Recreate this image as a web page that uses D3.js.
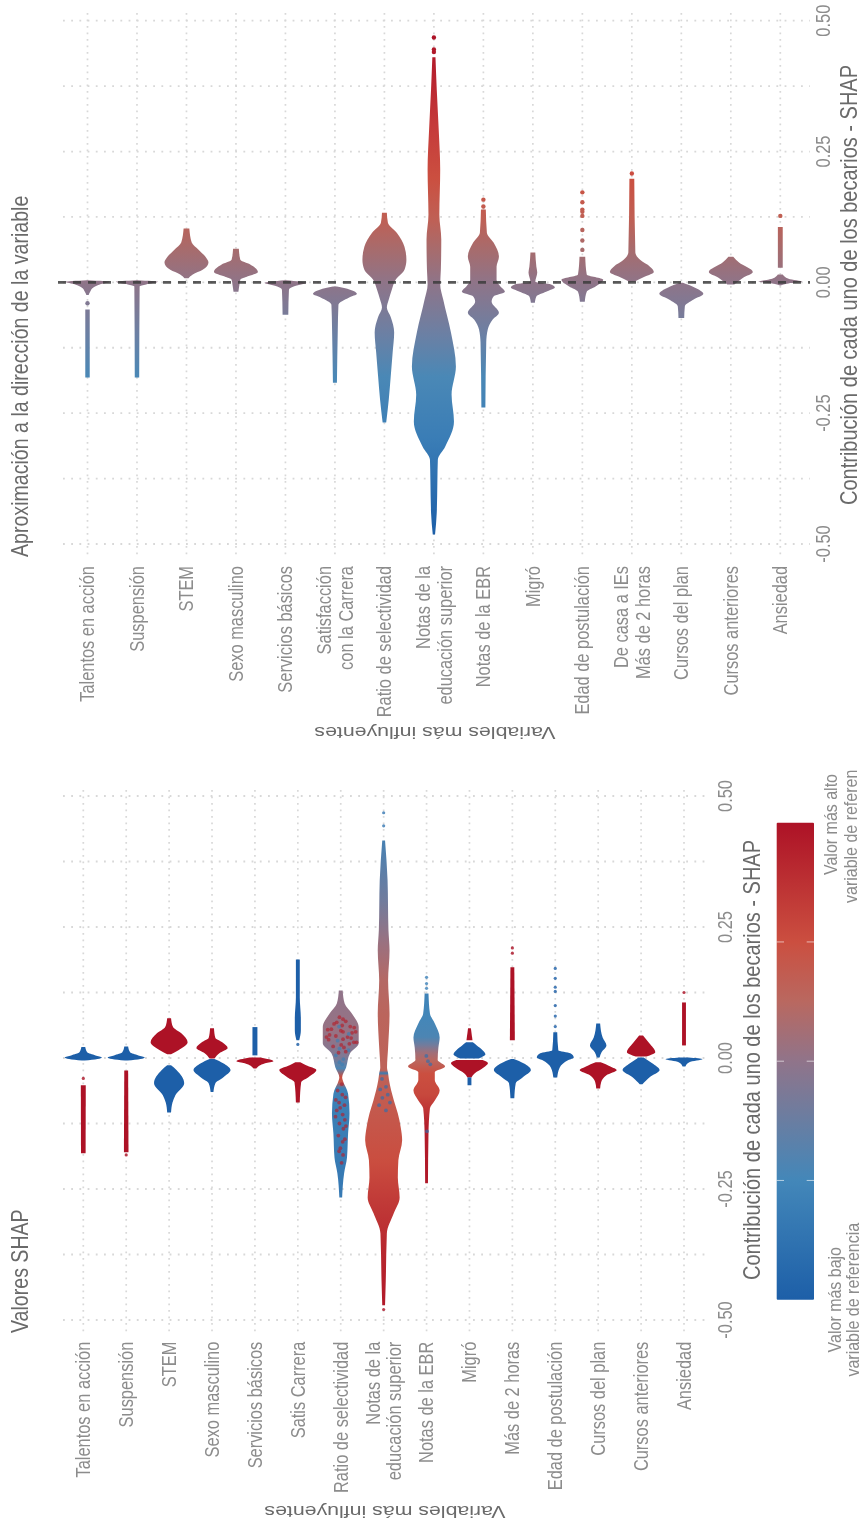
<!DOCTYPE html>
<html><head><meta charset="utf-8">
<script src="https://cdn.jsdelivr.net/npm/d3@7"></script>
<style>
html,body{margin:0;padding:0;background:#fff;overflow:hidden}
svg{display:block;filter:blur(0.45px)}
text{font-family:"Liberation Sans",Arial,sans-serif}
</style></head><body>
<svg id="c" width="863" height="1529"></svg>
<script>
const shapTicks = [-0.5,-0.25,0,0.25,0.5];
const shapGrid = [-0.5,-0.375,-0.25,-0.125,0,0.125,0.25,0.375,0.5];
const colorStopValues = [-0.5,-0.25,0,0.125,0.25,0.5];
const colorStopHex = ["#1d5fa8","#4387b9","#90748a","#b96860","#cb4f40","#ad1226"];
const topStopValues = [-0.48,-0.3,-0.18,-0.1,0,0.06,0.12,0.2,0.3,0.47];
const topStopHex = ["#1d5fa8","#3a7db6","#4a88b6","#6b80a4","#8f7488","#a66c6e","#bf6055","#cb4f40","#c53a3a","#ad1226"];

const categoriesTop = ["Talentos en acción","Suspensión","STEM","Sexo masculino","Servicios básicos","Satisfacción\ncon la Carrera","Ratio de selectividad","Notas de la\neducación superior","Notas de la EBR","Migró","Edad de postulación","De casa a IEs\nMás de 2 horas","Cursos del plan","Cursos anteriores","Ansiedad"];
const categoriesBottom = ["Talentos en acción","Suspensión","STEM","Sexo masculino","Servicios básicos","Satis Carrera","Ratio de selectividad","Notas de la\neducación superior","Notas de la EBR","Migró","Más de 2 horas","Edad de postulación","Cursos del plan","Cursos anteriores","Ansiedad"];

// Upper panel: SHAP value and relative density along each violin (null density = gap)
const topShap = [
 [.004,.001,-.004,-.01,-.018,-.024,-.03,-.052,-.182],
 [.004,.001,-.004,-.008,-.182],
 [.103,.076,.062,.049,.038,.024,.015,.008],
 [.064,.043,.034,.02,.011,.005,-.004,-.018],
 [.004,-.001,-.008,-.014,-.062],
 [-.008,-.014,-.022,-.029,-.043,-.09,-.192],
 [.133,.114,.095,.068,.043,.024,.005,-.014,-.033,-.048,-.066,-.096,-.134,-.18,-.224,-.268],
 [.43,.368,.292,.215,.129,.082,.024,-.004,-.033,-.096,-.161,-.215,-.266,-.314,-.339,-.377,-.44,-.482],
 [.139,.095,.076,.049,.03,.005,-.008,-.018,-.027,-.037,-.058,-.071,-.09,-.115,-.239],
 [.057,.03,.019,.001,-.004,-.01,-.018,-.027,-.039],
 [.049,.015,.005,.001,-.008,-.018,-.037],
 [.198,.057,.043,.03,.02,.011,.001],
 [-.001,-.01,-.022,-.033,-.046,-.068],
 [.049,.038,.02,.009,-.004],
 [.106,.028,.02,.015,.007,.001,-.002,-.006]
];
const topDensity = [
 [0,1,.55,.25,.1,.03,null,.08,.08],
 [0,.95,.4,.1,.08],
 [.11,.22,.55,.86,1,.73,.27,.07],
 [.11,.18,.64,1,.5,.18,.14,.09],
 [0,.95,.36,.14,.11],
 [.07,.68,1,.64,.14,.11,.07],
 [.09,.14,.55,.91,1,.91,.5,.32,.18,.09,.27,.43,.36,.27,.18,.06],
 [.05,.11,.2,.27,.23,.32,.3,.27,.41,.77,1,.8,.91,.5,.16,.14,.11,.03],
 [.09,.14,.45,.7,.59,.59,.77,.98,.45,.36,.7,.41,.18,.11,.07],
 [.09,.14,.18,.09,.82,1,.59,.14,.07],
 [.11,.18,.95,.9,.59,.18,.09],
 [.09,.14,.36,.82,1,.59,.09],
 [.05,.59,1,.55,.14,.11],
 [.09,.36,1,.55,.14],
 [.09,.09,null,.09,.36,1,.36,0]
];
const topOutliers = [[-.04],[],[],[],[],[],[],[.468,.445,.44],[.158,.145],[],[.172,.153,.139,.135,.127,.1,.08,.062],[.208],[],[],[.127]];

// Lower panel: one lobe per colour group. Feature = colour-bar value of a flat lobe, null = uses stops
const lobeCategory = [0,0,1,1,2,2,3,3,4,4,5,5,6,7,8,9,9,9,9,10,10,11,12,12,13,13,14,14];
const lobeFeature = [-.5,.5,-.5,.5,.5,-.5,.5,-.5,-.5,.5,-.5,.5,null,null,null,.5,-.5,.5,-.5,.5,-.5,-.5,-.5,.5,.5,-.5,.5,-.5];
const lobeShap = [
 [.021,.011,.005,.001,-.002,-.005],[-.052,-.182],
 [.022,.011,.005,.001,-.002,-.005],[-.024,-.18],
 [.076,.059,.047,.03,.015,.007],[-.014,-.023,-.048,-.071,-.085,-.104],
 [.057,.038,.03,.019,.009,-.001],[-.002,-.01,-.023,-.037,-.048,-.065],
 [.059,.005],[.001,-.006,-.01,-.02],
 [.188,.116,.076,.053,.034],[-.008,-.014,-.023,-.037,-.046,-.085],
 [.129,.104,.085,.059,.028,.009,-.018,-.037,-.042,-.068,-.106,-.144,-.19,-.22,-.266],
 [.415,.339,.244,.205,.148,.085,.02,-.018,-.029,-.042,-.081,-.106,-.132,-.157,-.195,-.228,-.266,-.296,-.335,-.425,-.472],
 [.123,.085,.066,.039,.02,-.004,-.016,-.027,-.042,-.062,-.081,-.096,-.144,-.239],
 [.057,.034],[.03,.024,.015,.007,-.001],[-.004,-.01,-.018,-.029,-.037],[-.037,-.052],
 [.173,.034],[-.002,-.01,-.023,-.037,-.048,-.077],
 [.049,.015,.009,.001,-.004,-.018,-.037],
 [.066,.039,.024,.011,.001],[-.008,-.016,-.023,-.033,-.046,-.058],
 [.043,.028,.011,.003],[.001,-.01,-.023,-.037,-.05],
 [.106,.024],[.001,-.002,-.008,-.016]
];
const lobeDensity = [
 [.08,.19,.65,1,.76,.05],[.11,.1],
 [.08,.19,.65,1,.76,.05],[.08,.1],
 [.08,.19,.65,1,.49,.08],[.08,.38,.81,.32,.16,.08],
 [.08,.16,.54,.84,.38,.11],[.11,.59,1,.59,.16,.05],
 [.11,.11],[.27,1,.54,.05],
 [.08,.08,.14,.14,.05],[.11,.43,1,.54,.16,.08],
 [.08,.19,.59,.97,.97,.49,.27,.05,.08,.38,.46,.38,.32,.16,.05],
 [.05,.19,.24,.3,.22,.3,.22,.16,.22,.27,.54,.76,.92,1,.79,.76,.86,.54,.15,.09,.05],
 [.08,.16,.43,.7,.63,.59,1,.43,.43,.7,.43,.16,.08,.05],
 [.05,.14],[.16,.38,.7,.86,.49],[.7,1,.76,.27,.08],[.08,.08],
 [.08,.11],[.05,.59,1,.54,.16,.08],
 [.08,.14,.81,1,.7,.22,.08],
 [.08,.22,.43,.16,.05],[.11,.65,1,.43,.14,.08],
 [.08,.43,.76,.27],[.11,.59,1,.43,.05],
 [.08,.08],[.22,1,.27,.05]
];
const ratioStopShap = [.13,.05,0,-.02,-.036,-.046,-.058,-.21];
const ratioStopColor = [.0,.02,-.06,-.22,.26,.2,-.29,-.33];
const notasStopShap = [.44,.3,.22,.15,.08,0,-.024,-.029,-.034,-.1,-.2,-.27,-.35,-.47];
const notasStopColor = [-.28,-.1,.03,.11,.14,.15,.15,-.32,.16,.2,.26,.33,.4,.47];
const ebrStopShap = [.15,.08,.04,.025,.01,-.005,-.015,-.03,-.07,-.1,-.13,-.24];
const ebrStopColor = [-.3,-.25,-.22,-.1,.05,.13,.18,.25,.28,.36,.45,.48];
const lobeStops = {12:[ratioStopShap,ratioStopColor],13:[notasStopShap,notasStopColor],14:[ebrStopShap,ebrStopColor]};

const bottomOutlierCategory = [0,1,5,7,7,7,8,8,8,10,10,11,11,11,11,11,11,11,14];
const bottomOutlierShap = [-.039,-.185,.026,.468,.443,-.48,.154,.142,.133,.21,.2,.171,.152,.135,.127,.1,.08,.06,.125];
const bottomOutlierFeature = [.5,.5,-.5,-.35,-.35,.5,-.3,-.3,-.3,.5,.5,-.5,-.5,-.5,-.5,-.5,-.5,-.5,.5];

// Speckled points seen inside the mixed violins
const speckleCategory = [6,6,6,6,6,6,6,6,6,6,6,6,6,6,6,6,6,6,6,6,6,6,6,6,6,6,6,6,6,6,6,6,6,6,6,6,6,6,6,6,6,6,6,6,6,6,6,6,6,6,6,6,6,6,6,6,6,6,6,6,7,7,7,7,7,7,7,7,8,8,8,8];
const speckleShap = [.078,.07,.065,.06,.055,.05,.048,.042,.04,.035,.03,.025,.022,.015,.01,.005,-.002,-.008,-.012,.052,.036,.018,.062,-.05,-.062,-.075,-.085,-.09,-.1,-.108,-.118,-.125,-.135,-.148,-.16,-.172,-.185,-.2,-.07,-.095,
 .074,.068,.058,.054,.046,.044,.038,.033,.027,.02,.012,.06,.05,.04,.03,-.08,-.112,-.13,-.155,-.178,
 -.04,-.055,-.06,-.07,-.076,-.085,-.09,-.1,-.006,-.012,.004,-.14];
const speckleOffset = [-.1,.25,-.4,.5,-.55,.1,.6,-.3,.35,-.7,.7,.0,-.45,.4,-.15,-.3,.12,-.1,.05,-.02,.1,-.1,.05,.03,-.2,.24,-.12,.18,-.25,.08,.2,-.1,.12,-.16,.08,-.05,.1,.02,.06,-.06,
 .1,-.25,.72,-.75,.42,-.65,.55,-.2,.45,.15,.25,-.12,.8,-.82,.85,-.3,-.32,.26,.2,-.12,
 -.12,.1,-.22,.2,-.1,.32,-.28,.1,.05,.18,-.04,.0];
const speckleFeature = [.45,.45,.45,.45,.45,.45,.45,.45,.45,.45,.45,.45,.45,-.3,.45,-.3,-.3,-.3,-.3,.45,.45,-.3,.45,.45,.45,.45,.45,.45,.45,.45,.45,.45,.45,.45,.45,.45,.45,.45,.45,.45,
 .45,.45,.45,.45,-.3,.45,.45,-.3,.45,.45,.45,-.3,.45,.45,.45,.45,.45,.45,.45,.45,
 -.4,-.4,-.4,-.4,-.4,-.4,-.4,-.4,-.4,-.4,-.4,-.4];

const svg = d3.select("#c");
const defs = svg.append("defs");
const grey="#8c8c8c", dark="#6a6a6a", stretch=1.2;
const colorScale = d3.scaleLinear().domain(colorStopValues).range(colorStopHex).clamp(true);
const topColorScale = d3.scaleLinear().domain(topStopValues).range(topStopHex).clamp(true);

function rotText(x,y,str,size,anchor,fill){
  const g=svg.append("g").attr("transform",`translate(${x},${y}) rotate(-90) scale(1,${stretch})`);
  const lines=str.split("\n"), lh=size*1.1;
  lines.forEach((l,i)=>g.append("text").attr("text-anchor",anchor).attr("font-size",size).attr("fill",fill)
    .attr("y",(i-(lines.length-1)/2)*lh+size*.35).text(l));
}
function addGradient(id,y,stopValues,stopColors){
  const gr=defs.append("linearGradient").attr("id",id).attr("gradientUnits","userSpaceOnUse")
    .attr("x1",0).attr("x2",0).attr("y1",y(stopValues[0])).attr("y2",y(stopValues[stopValues.length-1]));
  const t=d3.scaleLinear().domain([stopValues[0],stopValues[stopValues.length-1]]).range([0,100]);
  stopValues.forEach((v,i)=>gr.append("stop").attr("offset",t(v)+"%").attr("stop-color",stopColors[i]));
}
function panel(o){
  const y=d3.scaleLinear().domain([-.5,.5]).range(o.yRange);
  const x=d3.scalePoint().domain(d3.range(o.cats.length)).range(o.xRange);
  const g=svg.append("g");
  g.append("g").selectAll("line").data(shapGrid).join("line").attr("x1",o.gridX[0]).attr("x2",o.gridX[1])
    .attr("y1",d=>y(d)).attr("y2",d=>y(d)).attr("stroke","#d8d8d8").attr("stroke-width",1.8).attr("stroke-dasharray","1.8 6.4");
  g.append("g").selectAll("line").data(x.domain()).join("line").attr("x1",d=>x(d)).attr("x2",d=>x(d))
    .attr("y1",o.gridY[0]).attr("y2",o.gridY[1]).attr("stroke","#d8d8d8").attr("stroke-width",1.7).attr("stroke-dasharray","1.8 4.7");
  shapTicks.forEach(t=>rotText(o.tickX,y(t),t.toFixed(2),16.4,"middle",grey));
  o.cats.forEach((c,i)=>rotText(x(i),o.labelY,c,16.4,"end",grey));
  rotText(o.titleX[0],o.titleX[1],o.title,19.6,"start",dark);
  rotText(o.axisTitle[0],o.axisTitle[1],"Contribución de cada uno de los becarios - SHAP",20,"middle",dark);
  svg.append("text").attr("transform",`translate(${o.xTitle[0]},${o.xTitle[1]}) rotate(180) scale(${stretch+.1},1)`)
    .attr("text-anchor","middle").attr("font-size",16.4).attr("fill",dark).attr("dy",".35em").text("Variables más influyentes");
  const w=d3.scaleLinear().domain([0,1]).range([0.5,o.maxHalf]);
  const area=(cx)=>d3.area().defined(d=>d[1]!==null).curve(d3.curveMonotoneY)
    .y(d=>y(d[0])).x0(d=>cx-w(d[1])).x1(d=>cx+w(d[1]));
  return {y,x,w,area,g};
}

// ---- upper panel
const top1=panel({cats:categoriesTop,yRange:[544,20.7],xRange:[87.5,780.3],gridX:[63,810],gridY:[13,557],tickX:823,labelY:566,
  title:"Aproximación a la dirección de la variable",titleX:[20,557],axisTitle:[848.5,285],xTitle:[435,733],maxHalf:22});
addGradient("topGrad",top1.y,topStopValues.slice().reverse(),topStopHex.slice().reverse());
categoriesTop.forEach((c,i)=>{
  const pts=d3.zip(topShap[i],topDensity[i]);
  top1.g.append("path").attr("d",top1.area(top1.x(i))(pts)).attr("fill","url(#topGrad)");
  top1.g.selectAll(null).data(topOutliers[i]).join("circle").attr("cx",top1.x(i)).attr("cy",d=>top1.y(d)).attr("r",2.2).attr("fill",d=>topColorScale(d));
});
top1.g.append("line").attr("x1",58).attr("x2",810).attr("y1",top1.y(0)).attr("y2",top1.y(0))
  .attr("stroke","#3c3c3c").attr("stroke-opacity",.85).attr("stroke-width",2.6).attr("stroke-dasharray","8 7");

// ---- lower panel
const low=panel({cats:categoriesBottom,yRange:[1320,796],xRange:[83.3,684],gridX:[63,708],gridY:[790,1335],tickX:725,labelY:1341.7,
  title:"Valores SHAP",titleX:[20,1333],axisTitle:[752,1060],xTitle:[385,1512],maxHalf:18.5});
lobeShap.forEach((s,i)=>{
  let fill;
  if(lobeFeature[i]===null){
    const st=lobeStops[i]; addGradient("lobe"+i,low.y,st[0],st[1].map(colorScale)); fill=`url(#lobe${i})`;
  } else fill=colorScale(lobeFeature[i]);
  low.g.append("path").attr("d",low.area(low.x(lobeCategory[i]))(d3.zip(s,lobeDensity[i]))).attr("fill",fill);
});
low.g.selectAll(null).data(speckleShap).join("circle")
  .attr("cx",(d,i)=>low.x(speckleCategory[i])+low.w(speckleOffset[i])).attr("cy",d=>low.y(d)).attr("r",1.9).attr("opacity",.65)
  .attr("fill",(d,i)=>colorScale(speckleFeature[i]));
low.g.selectAll(null).data(bottomOutlierShap).join("circle")
  .attr("cx",(d,i)=>low.x(bottomOutlierCategory[i])).attr("cy",d=>low.y(d)).attr("r",1.6).attr("opacity",.8)
  .attr("fill",(d,i)=>colorScale(bottomOutlierFeature[i]));

// ---- colour bar
const barY=d3.scaleLinear().domain([-.5,.5]).range([1299.7,822.7]);
addGradient("barGrad",barY,colorStopValues.slice().reverse(),colorStopHex.slice().reverse());
svg.append("rect").attr("x",776.7).attr("width",37.3).attr("y",barY(.5)).attr("height",barY(-.5)-barY(.5)).attr("rx",1).attr("fill","url(#barGrad)");
[-.25,0,.25].forEach(t=>[[776.7,784],[806.7,814]].forEach(e=>svg.append("line").attr("x1",e[0]).attr("x2",e[1]).attr("y1",barY(t)).attr("y2",barY(t)).attr("stroke","#fff").attr("stroke-opacity",.6).attr("stroke-width",1)));
rotText(830,875,"Valor más alto",16,"start",grey);
rotText(850,903,"variable de referen",16,"start",grey);
rotText(834,1299.7,"Valor más bajo",16,"middle",grey);
rotText(852.5,1299.7,"variable de referencia",16,"middle",grey);
</script>
</body></html>
